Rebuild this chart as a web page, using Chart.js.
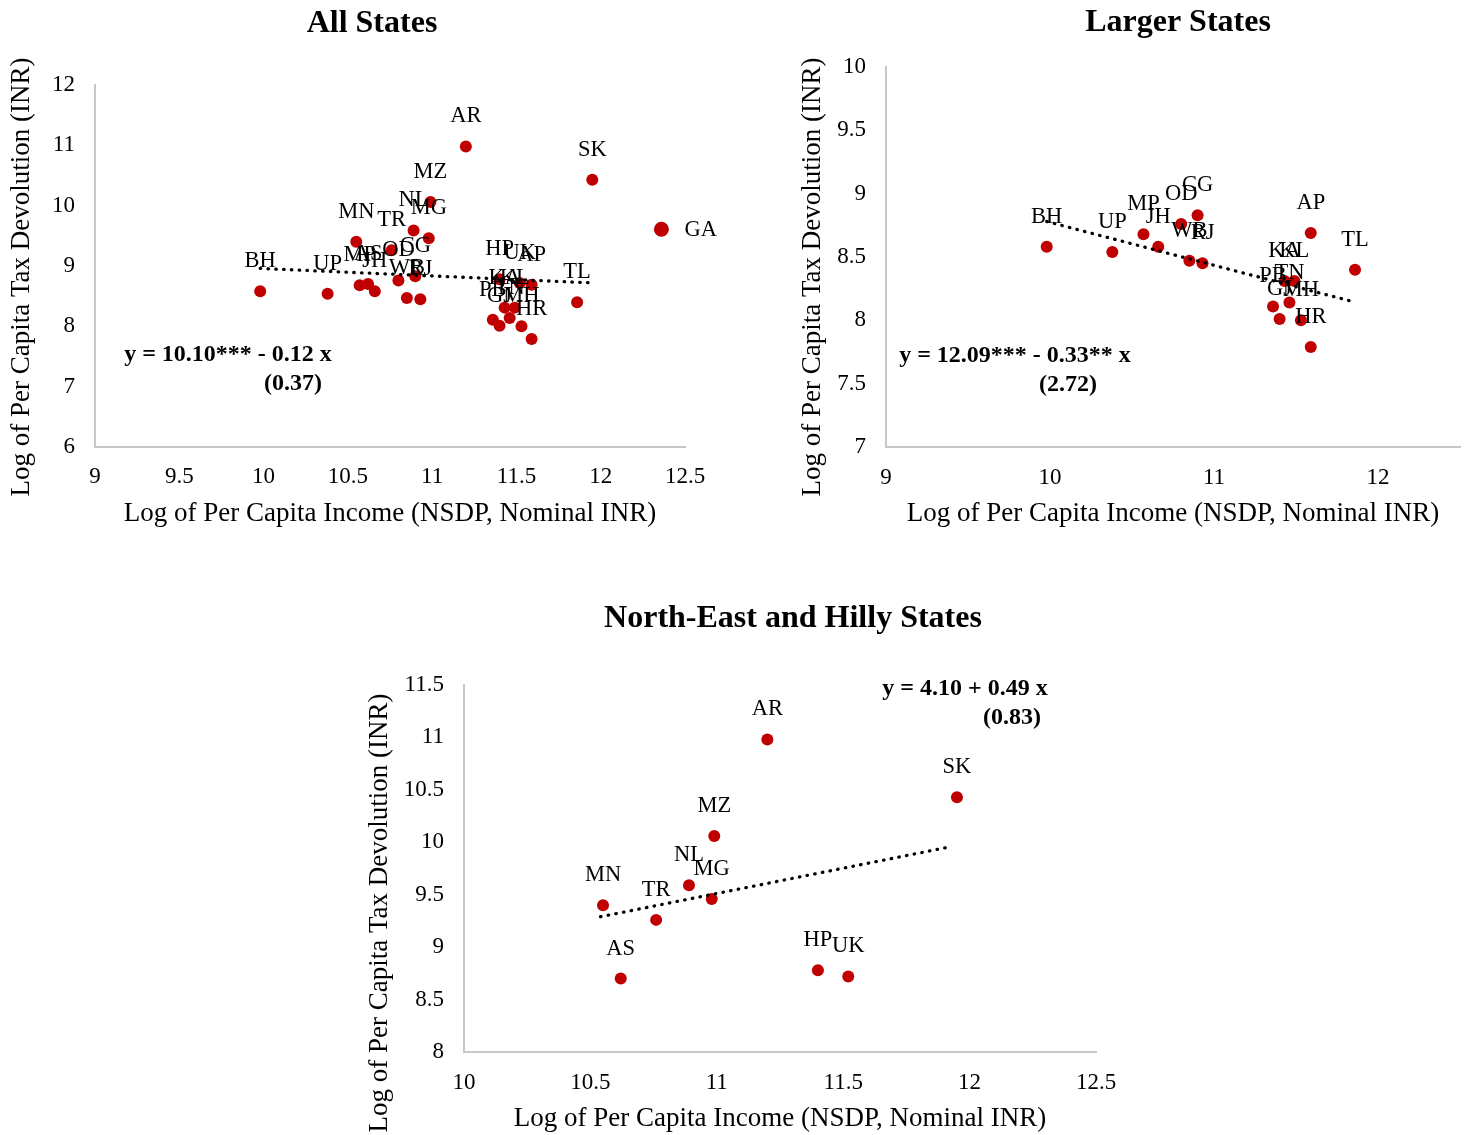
<!DOCTYPE html>
<html><head><meta charset="utf-8">
<script src="https://cdn.jsdelivr.net/npm/chart.js@4.4.1/dist/chart.umd.min.js"></script>
<style>
html,body{margin:0;padding:0;background:#fff;}
body{width:1467px;height:1135px;position:relative;overflow:hidden;}
canvas{position:absolute;}
</style></head><body>
<canvas id="c1" width="733" height="540" style="left:0px;top:0px"></canvas>
<canvas id="c2" width="734" height="540" style="left:733px;top:0px"></canvas>
<canvas id="c3" width="800" height="575" style="left:360px;top:560px"></canvas>
<script>
// ---------------- DATA ----------------
const stateCodes = ['BH','UP','MP','AS','JH','OD','CG','WB','RJ','MN','TR','NL','MG','MZ','AR','SK','HP','UK','AP','KA','KL','PB','TN','GJ','MH','HR','TL','GA'];
const incomeLog  = [9.98,10.38,10.57,10.62,10.66,10.80,10.90,10.85,10.93,10.55,10.76,10.89,10.98,10.99,11.20,11.95,11.40,11.52,11.59,11.43,11.49,11.36,11.46,11.40,11.53,11.59,11.86,12.36];
const taxLog     = [8.58,8.54,8.68,8.70,8.58,8.76,8.83,8.47,8.45,9.40,9.26,9.59,9.46,10.06,10.98,10.43,8.78,8.72,8.69,8.31,8.31,8.11,8.14,8.01,8.00,7.79,8.40,9.61];

const allStatesMain = ['BH','UP','MP','AS','JH','OD','CG','WB','RJ','MN','TR','NL','MG','MZ','AR','SK','HP','UK','AP','KA','KL','PB','TN','GJ','MH','HR','TL'];
const allStatesOutlier = ['GA'];
const largerStates = ['BH','UP','MP','JH','OD','CG','WB','RJ','AP','KA','KL','PB','TN','GJ','MH','HR','TL'];
const neHillyStates = ['AR','SK','MZ','NL','MG','MN','TR','AS','HP','UK'];

const allTrendX = [9.98, 11.95];
const allTrendY = [8.96, 8.72];
const largerTrendX = [9.98, 11.84];
const largerTrendY = [8.78, 8.15];
const neTrendX = [10.54, 11.93];
const neTrendY = [9.29, 9.96];

const allXTicks = [9, 9.5, 10, 10.5, 11, 11.5, 12, 12.5];
const allYTicks = [6, 7, 8, 9, 10, 11, 12];
const largerXTicks = [9, 10, 11, 12];
const largerYTicks = [7, 7.5, 8, 8.5, 9, 9.5, 10];
const neXTicks = [10, 10.5, 11, 11.5, 12, 12.5];
const neYTicks = [8, 8.5, 9, 9.5, 10, 10.5, 11, 11.5];

const titles = ['All States', 'Larger States', 'North-East and Hilly States'];
const equations = [
  ['y = 10.10*** - 0.12 x', '(0.37)'],
  ['y = 12.09*** - 0.33** x', '(2.72)'],
  ['y = 4.10 + 0.49 x', '(0.83)']
];
const xTitle = 'Log of Per Capita Income (NSDP, Nominal INR)';
const yTitle = 'Log of Per Capita Tax Devolution (INR)';

// ---------------- HELPERS ----------------
const SERIF = '"Liberation Serif", "Times New Roman", serif';
const RED = '#C00000';
const AXIS = '#C8C8C8';

function pts(codes) {
  return codes.map(c => { const i = stateCodes.indexOf(c); return {x: incomeLog[i], y: taxLog[i]}; });
}
function trend(xs, ys) { return xs.map((x, i) => ({x: x, y: ys[i]})); }

function textPlugin(cfg) {
  return {
    id: 'textLayer',
    afterDatasetsDraw(chart) {
      const ctx = chart.ctx;
      ctx.save();
      ctx.fillStyle = '#000';
      ctx.textBaseline = 'middle';
      chart.data.datasets.forEach((ds, i) => {
        if (!ds.codes) return;
        const meta = chart.getDatasetMeta(i);
        ctx.font = '22.5px ' + SERIF;
        meta.data.forEach((el, j) => {
          if (ds.labelPos === 'right') {
            ctx.textAlign = 'left';
            ctx.fillText(ds.codes[j], el.x + 23, el.y + 1);
          } else {
            ctx.textAlign = 'center';
            ctx.fillText(ds.codes[j], el.x, el.y - 30);
          }
        });
      });
      ctx.textAlign = 'center';
      ctx.font = 'bold 32px ' + SERIF;
      ctx.fillText(cfg.title, cfg.titleX, cfg.titleY);
      ctx.font = 'bold 24px ' + SERIF;
      ctx.fillText(cfg.eq[0], cfg.eq1X, cfg.eq1Y);
      ctx.fillText(cfg.eq[1], cfg.eq2X, cfg.eq2Y);
      ctx.translate(cfg.yTitleX, cfg.yTitleY);
      ctx.rotate(-Math.PI / 2);
      ctx.font = '27px ' + SERIF;
      ctx.fillText(yTitle, 0, 0);
      ctx.restore();
    }
  };
}

function makeChart(id, o) {
  const datasets = [
    {
      type: 'line', data: trend(o.tx, o.ty), showLine: true,
      borderColor: '#000', borderWidth: 3.3, borderDash: [0.5, 7.3], borderCapStyle: 'round',
      pointRadius: 0, fill: false, tension: 0
    }
  ];
  o.series.forEach(s => datasets.push({
    type: 'scatter', data: pts(s.codes), codes: s.codes, labelPos: s.labelPos,
    backgroundColor: RED, borderWidth: 0, pointRadius: s.r, pointHoverRadius: s.r
  }));
  return new Chart(document.getElementById(id), {
    type: 'scatter',
    data: { datasets: datasets },
    options: {
      responsive: false, animation: false, devicePixelRatio: 1,
      events: [],
      layout: { padding: o.padding },
      plugins: { legend: { display: false }, tooltip: { enabled: false }, title: { display: false } },
      scales: {
        x: {
          type: 'linear', min: o.xMin, max: o.xMax,
          afterBuildTicks: sc => { sc.ticks = o.xTicks.map(v => ({value: v})); },
          afterFit: sc => { sc.height = o.xH; },
          grid: { display: false, drawTicks: false },
          border: { display: true, color: AXIS, width: 2 },
          ticks: { color: '#000', font: { family: SERIF, size: 23 }, padding: o.xPad, maxRotation: 0, autoSkip: false, callback: v => String(v) },
          title: { display: true, text: xTitle, color: '#000', font: { family: SERIF, size: 27 }, padding: { top: 0, bottom: o.xTitlePad } }
        },
        y: {
          type: 'linear', min: o.yMin, max: o.yMax,
          afterBuildTicks: sc => { sc.ticks = o.yTicks.map(v => ({value: v})); },
          afterFit: sc => { sc.width = o.yW; },
          grid: { display: false, drawTicks: false },
          border: { display: true, color: AXIS, width: 2 },
          ticks: { color: '#000', font: { family: SERIF, size: 23 }, padding: 20, autoSkip: false, callback: v => String(v) }
        }
      }
    },
    plugins: [textPlugin(o.text)]
  });
}

makeChart('c1', {
  tx: allTrendX, ty: allTrendY,
  series: [{codes: allStatesMain, r: 6, labelPos: 'top'}, {codes: allStatesOutlier, r: 7.5, labelPos: 'right'}],
  padding: {left: 0, top: 85, right: 48, bottom: 0},
  xMin: 9, xMax: 12.5, yMin: 6, yMax: 12, xTicks: allXTicks, yTicks: allYTicks,
  xH: 93, yW: 95, xPad: 16, xTitlePad: 10,
  text: {title: titles[0], titleX: 372, titleY: 24, eq: equations[0], eq1X: 228, eq1Y: 355, eq2X: 293, eq2Y: 384, yTitleX: 22, yTitleY: 277}
});

makeChart('c2', {
  tx: largerTrendX, ty: largerTrendY,
  series: [{codes: largerStates, r: 6, labelPos: 'top'}],
  padding: {left: 0, top: 67, right: 7, bottom: 0},
  xMin: 9, xMax: 12.5, yMin: 7, yMax: 10, xTicks: largerXTicks, yTicks: largerYTicks,
  xH: 93, yW: 153, xPad: 17, xTitlePad: 10,
  text: {title: titles[1], titleX: 445, titleY: 23, eq: equations[1], eq1X: 282, eq1Y: 356, eq2X: 335, eq2Y: 385, yTitleX: 80, yTitleY: 277}
});

makeChart('c3', {
  tx: neTrendX, ty: neTrendY,
  series: [{codes: neHillyStates, r: 6, labelPos: 'top'}],
  padding: {left: 0, top: 125, right: 64, bottom: 0},
  xMin: 10, xMax: 12.5, yMin: 8, yMax: 11.5, xTicks: neXTicks, yTicks: neYTicks,
  xH: 83, yW: 104, xPad: 17, xTitlePad: 0,
  text: {title: titles[2], titleX: 433, titleY: 59, eq: equations[2], eq1X: 605, eq1Y: 129, eq2X: 652, eq2Y: 158, yTitleX: 20, yTitleY: 353}
});
</script>
</body></html>
